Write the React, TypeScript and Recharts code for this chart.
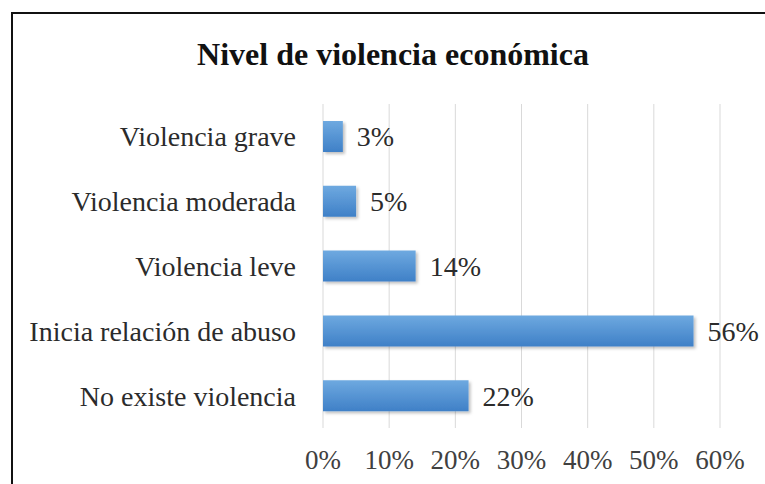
import { BarChart, Bar, XAxis, YAxis, CartesianGrid, LabelList } from "recharts"

const categories = ["Violencia grave", "Violencia moderada", "Violencia leve", "Inicia relación de abuso", "No existe violencia"]
const values = [3, 5, 14, 56, 22]
const xTicks = [0, 10, 20, 30, 40, 50, 60]

const data = categories.map((name, i) => ({ name, value: values[i] }))

const FONT = "'Liberation Serif', 'Times New Roman', serif"

export default function App() {
  return (
    <div style={{ position: "absolute", left: 0, top: 0, width: 765, height: 484, overflow: "hidden", background: "#fff", fontFamily: FONT }}>
      {/* outer frame, cut off on the right and bottom like the source */}
      <div style={{ position: "absolute", left: 11, top: 12, width: 800, height: 520, border: "2px solid #111", boxSizing: "border-box" }} />
      <div style={{ position: "absolute", left: 0, width: 786, top: 36, textAlign: "center", fontSize: 32, fontWeight: "bold", color: "#111", lineHeight: "36px" }}>
        Nivel de violencia económica
      </div>
      <BarChart
        width={765}
        height={484}
        data={data}
        layout="vertical"
        margin={{ top: 104, right: 45, bottom: 0, left: 0 }}
        style={{ position: "absolute", left: 0, top: 0, fontFamily: FONT }}
      >
        <defs>
          <linearGradient id="barFill" x1="0" y1="0" x2="0" y2="1">
            <stop offset="0%" stopColor="#6ea9e0" />
            <stop offset="100%" stopColor="#3f80c7" />
          </linearGradient>
          <filter id="barShadow" x="-10%" y="-20%" width="130%" height="160%">
            <feDropShadow dx="2" dy="2" stdDeviation="1.5" floodColor="#000" floodOpacity="0.25" />
          </filter>
        </defs>
        <CartesianGrid horizontal={false} stroke="#d9d9d9" />
        <XAxis
          type="number"
          domain={[0, 60]}
          ticks={xTicks}
          tickFormatter={(v) => `${v}%`}
          axisLine={false}
          tickLine={false}
          tickSize={0}
          tickMargin={22}
          height={56}
          tick={{ fontSize: 27, fill: "#404040", fontFamily: FONT }}
        />
        <YAxis
          type="category"
          dataKey="name"
          width={323}
          axisLine={false}
          tickLine={false}
          tickSize={0}
          tickMargin={27}
          tick={{ fontSize: 28, fill: "#2b2b2b", fontFamily: FONT }}
        />
        <Bar dataKey="value" fill="url(#barFill)" barSize={31} filter="url(#barShadow)" isAnimationActive={false}>
          <LabelList
            dataKey="value"
            position="right"
            offset={14}
            formatter={(v) => `${v}%`}
            style={{ fontSize: 28, fill: "#2b2b2b", fontFamily: FONT }}
          />
        </Bar>
      </BarChart>
    </div>
  )
}
